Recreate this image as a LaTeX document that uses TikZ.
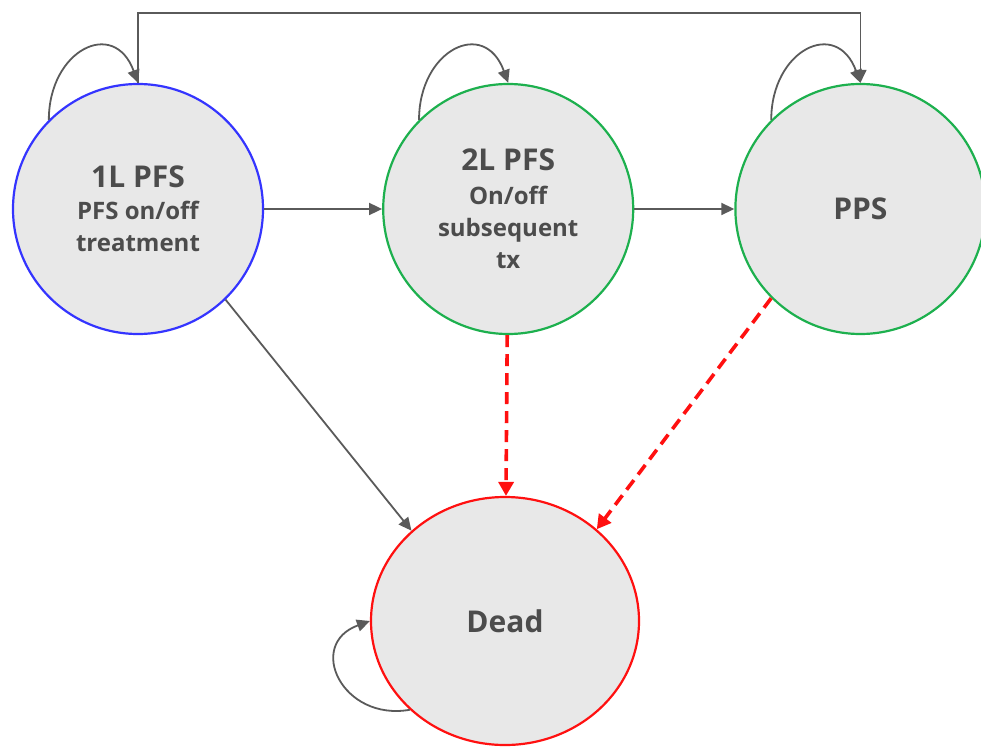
\documentclass[tikz,border=0pt]{standalone}
\usepackage{fontspec}
\setmainfont{Open Sans}
\usetikzlibrary{arrows.meta,positioning,shapes.geometric}

\definecolor{stategray}{HTML}{E8E8E8}
\definecolor{textgray}{HTML}{4C4C4C}
\definecolor{arrowgray}{HTML}{5A5A5A}
\definecolor{lineblue}{HTML}{3434FF}
\definecolor{linegreen}{HTML}{1DB04E}
\definecolor{linered}{HTML}{FF1010}

\newcommand{\statetitle}[1]{{\fontsize{30}{34}\selectfont #1}}

\begin{document}
\begin{tikzpicture}[
  x=1pt, y=1pt,
  node distance=118pt,
  state/.style={draw, circle, line width=2.2pt, fill=stategray, minimum size=250pt, align=center, text=textgray, font=\bfseries\fontsize{24}{32}\selectfont},
  arrow/.style={-{Triangle[length=13pt,width=12pt]}, line width=1.8pt, draw=arrowgray},
  deatharrow/.style={-{Triangle[length=14pt,width=15pt]}, line width=3.6pt, draw=linered, dash pattern=on 12pt off 7pt}
]
  \useasboundingbox (0,0) rectangle (981,748);

  % Nodes
  \node[state, draw=lineblue] (pfs1) at (138,539) {\statetitle{1L PFS}\\PFS on/off\\treatment};
  \node[state, draw=linegreen, right=of pfs1] (pfs2) {\statetitle{2L PFS}\\[2pt]On/off\\subsequent\\tx};
  \node[state, draw=linegreen, right=100pt of pfs2] (pps) {\statetitle{PPS}};
  \node[state, ellipse, draw=linered, minimum width=268pt, minimum height=248pt] (dead) at (505,127) {\statetitle{Dead}};

  \coordinate (topline) at (0,735);

  % Arrows
  \draw[arrow] (pfs1) -- (pfs2);
  \draw[arrow] (pfs2) -- (pps);
  \draw[arrow] (pfs1.north) -- (pfs1.north |- topline) -| (pps.north);
  \draw[arrow] (pfs1.-46) -- (dead.136);

  \draw[deatharrow] (pfs2) -- (dead);
  \draw[deatharrow] (pps.-135) -- (dead.45);

  % Self loops
  \draw[arrow] (pfs1.135) to[out=90, in=110, looseness=1.85] (pfs1.north);
  \draw[arrow] (pfs2.135) to[out=90, in=110, looseness=1.85] (pfs2.north);
  \draw[arrow] (pps.135) to[out=90, in=110, looseness=1.85] (pps.north);
  \draw[arrow] (dead.223) to[out=190, in=200, looseness=1.8] (dead.west);
\end{tikzpicture}
\end{document}
